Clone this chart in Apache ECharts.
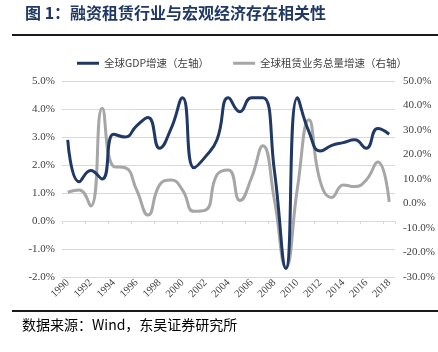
<!DOCTYPE html>
<html>
<head><meta charset="utf-8"></head>
<script type="text/javascript" src="https://cdn.jsdelivr.net/npm/echarts@6/dist/echarts.min.js"></script>
<body style="margin:0;background:#fff;">
    <div id="main" style="width:438px;height:352px;"></div>
</body>
<script type="text/javascript">
// 年份
var years = ['1990','1991','1992','1993','1994','1995','1996','1997','1998','1999',
    '2000','2001','2002','2003','2004','2005','2006','2007','2008','2009',
    '2010','2011','2012','2013','2014','2015','2016','2017','2018']
// 全球GDP增速（左轴, %）
var gdp = [2.9,1.4,1.8,1.5,3.1,3.0,3.4,3.7,2.6,3.3,
    4.4,1.9,2.3,2.9,4.4,3.9,4.4,4.4,1.8,-1.7,
    4.4,3.2,2.5,2.7,2.8,2.9,2.6,3.3,3.1]
// 全球租赁业务总量增速（右轴, %）
var lease = [4.6,5.5,-1.0,38.9,15.1,14.6,5.5,-4.7,7.6,9.6,
    5.5,-3.2,-2.7,11.7,13.7,1.2,10.4,23.6,1.5,-26.0,
    6.0,34.2,8.9,2.5,7.6,6.9,9.6,16.9,0.7]
var leftTicks = {min:-2, max:5, interval:1}
var rightTicks = {min:-30, max:50, interval:10}

var cjk = '"Noto Sans CJK SC", sans-serif'
var serif = '"Liberation Serif", "DejaVu Serif", serif'

var myChart = echarts.init(document.getElementById('main'))
myChart.setOption({
    animation: false,
    title: {
        text: '图 1：融资租赁行业与宏观经济存在相关性',
        left: 20, top: 0,
        textStyle: {fontFamily: cjk, fontSize: 16, fontWeight: 'bold', color: '#1F3864'}
    },
    graphic: [
        {type: 'line', shape: {x1: 12, y1: 35, x2: 438, y2: 35}, style: {stroke: '#1a1a1a', lineWidth: 2}},
        {type: 'line', shape: {x1: 12, y1: 311, x2: 438, y2: 311}, style: {stroke: '#1a1a1a', lineWidth: 2}},
        {type: 'text', left: 22, top: 318,
            style: {text: '数据来源：Wind，东吴证券研究所', font: '14px ' + cjk, fill: '#000'}}
    ],
    legend: {
        top: 53, left: 72,
        itemWidth: 22, itemHeight: 3, itemGap: 24,
        icon: 'rect',
        textStyle: {fontFamily: cjk, fontSize: 10.5, color: '#404040'},
        data: ['全球GDP增速（左轴）', '全球租赁业务总量增速（右轴）']
    },
    grid: {left: 62, right: 43, top: 81, bottom: 75},
    xAxis: {
        type: 'category',
        data: years,
        boundaryGap: true,
        axisLine: {onZero: true, onZeroAxisIndex: 0, lineStyle: {color: '#d9d9d9'}},
        axisTick: {show: true, length: 3, lineStyle: {color: '#d9d9d9'}},
        axisLabel: {interval: 1, rotate: 45, margin: 4, fontFamily: serif, fontSize: 10.5, color: '#404040'}
    },
    yAxis: [
        {
            type: 'value',
            min: leftTicks.min, max: leftTicks.max, interval: leftTicks.interval,
            axisLine: {show: false}, axisTick: {show: false},
            splitLine: {lineStyle: {color: '#d9d9d9'}},
            axisLabel: {margin: 7, fontFamily: serif, fontSize: 11, color: '#404040',
                formatter: function (v) { return v.toFixed(1) + '%' }}
        },
        {
            type: 'value',
            min: rightTicks.min, max: rightTicks.max, interval: rightTicks.interval,
            axisLine: {show: false}, axisTick: {show: false},
            splitLine: {show: false},
            axisLabel: {margin: 8, fontFamily: serif, fontSize: 11, color: '#404040',
                formatter: function (v) { return v.toFixed(1) + '%' }}
        }
    ],
    series: [
        {
            name: '全球GDP增速（左轴）',
            type: 'line', yAxisIndex: 0,
            data: gdp, smooth: true, symbol: 'none',
            itemStyle: {color: '#1F3864'},
            lineStyle: {width: 3, color: '#1F3864'},
            z: 3
        },
        {
            name: '全球租赁业务总量增速（右轴）',
            type: 'line', yAxisIndex: 1,
            data: lease, smooth: true, symbol: 'none',
            itemStyle: {color: '#A6A6A6'},
            lineStyle: {width: 3, color: '#A6A6A6'},
            z: 2
        }
    ]
})
</script>
</html>
